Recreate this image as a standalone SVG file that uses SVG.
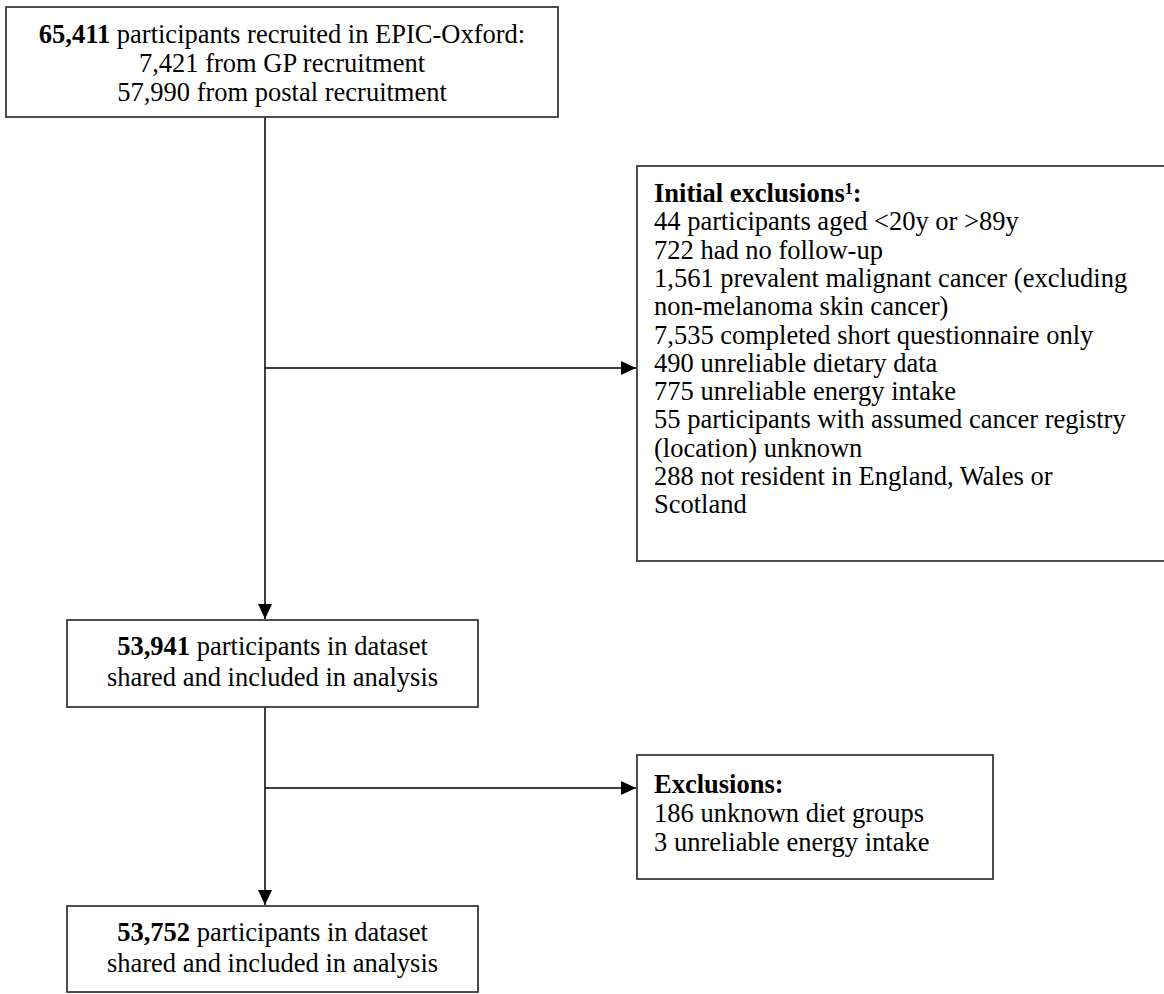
<svg xmlns="http://www.w3.org/2000/svg" width="1164" height="994" viewBox="0 0 1164 994">
<style>
.box{fill:#fff;stroke:#3a3a3a;stroke-width:1.8}
.t{font-family:"Liberation Serif","Times New Roman",serif;font-size:26.5px;fill:#000}
.c{text-anchor:middle}
.b{font-weight:bold}
.ln{stroke:#000;stroke-width:1.5;fill:none}
</style>
<defs>
<marker id="ah" markerUnits="userSpaceOnUse" markerWidth="16" markerHeight="14" refX="15" refY="7" orient="auto">
<path d="M0,0 L15,7 L0,14 Z" fill="#000"/>
</marker>
</defs>
<rect width="1164" height="994" fill="#fff"/>
<g id="connectors">
<line class="ln" x1="265" y1="117" x2="265" y2="619" marker-end="url(#ah)"/>
<line class="ln" x1="265" y1="368" x2="636" y2="368" marker-end="url(#ah)"/>
<line class="ln" x1="265" y1="707" x2="265" y2="905" marker-end="url(#ah)"/>
<line class="ln" x1="265" y1="788" x2="636" y2="788" marker-end="url(#ah)"/>
</g>
<g id="recruited">
<rect class="box" x="6" y="7" width="552" height="110"/>
<text class="t c" x="282" y="43"><tspan class="b">65,411</tspan> participants recruited in EPIC-Oxford:</text>
<text class="t c" x="282" y="72">7,421 from GP recruitment</text>
<text class="t c" x="282" y="101">57,990 from postal recruitment</text>
</g>
<g id="initial-exclusions">
<rect class="box" x="637" y="166" width="540" height="395"/>
<text class="t" x="654" y="202"><tspan class="b">Initial exclusions</tspan><tspan class="b" font-size="16" baseline-shift="super">1</tspan><tspan class="b">:</tspan></text>
<text class="t" x="654" y="230.3">44 participants aged &lt;20y or &gt;89y</text>
<text class="t" x="654" y="258.6">722 had no follow-up</text>
<text class="t" x="654" y="286.9">1,561 prevalent malignant cancer (excluding</text>
<text class="t" x="654" y="315.2">non-melanoma skin cancer)</text>
<text class="t" x="654" y="343.5">7,535 completed short questionnaire only</text>
<text class="t" x="654" y="371.8">490 unreliable dietary data</text>
<text class="t" x="654" y="400.1">775 unreliable energy intake</text>
<text class="t" x="654" y="428.4">55 participants with assumed cancer registry</text>
<text class="t" x="654" y="456.7">(location) unknown</text>
<text class="t" x="654" y="485">288 not resident in England, Wales or</text>
<text class="t" x="654" y="513.3">Scotland</text>
</g>
<g id="dataset-53941">
<rect class="box" x="67" y="620" width="411" height="87"/>
<text class="t c" x="272.5" y="655"><tspan class="b">53,941</tspan> participants in dataset</text>
<text class="t c" x="272.5" y="686">shared and included in analysis</text>
</g>
<g id="exclusions">
<rect class="box" x="637" y="755" width="356" height="124"/>
<text class="t b" x="654" y="793">Exclusions:</text>
<text class="t" x="654" y="822">186 unknown diet groups</text>
<text class="t" x="654" y="851">3 unreliable energy intake</text>
</g>
<g id="dataset-53752">
<rect class="box" x="67" y="906" width="411" height="86"/>
<text class="t c" x="272.5" y="941"><tspan class="b">53,752</tspan> participants in dataset</text>
<text class="t c" x="272.5" y="972">shared and included in analysis</text>
</g>
</svg>
